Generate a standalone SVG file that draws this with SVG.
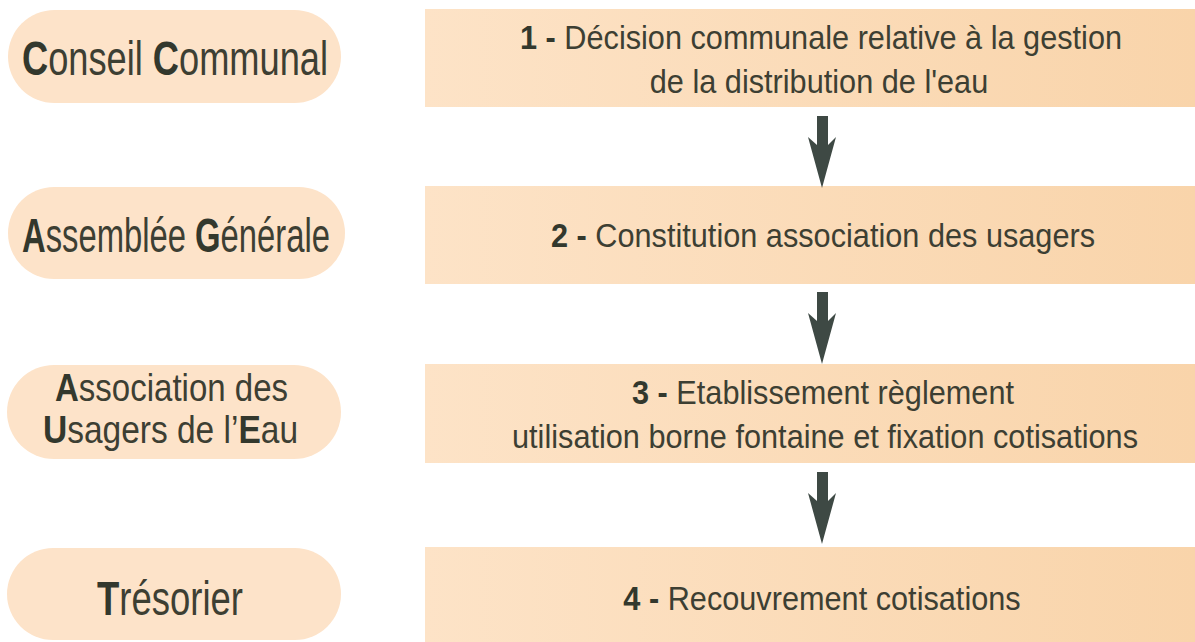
<svg xmlns="http://www.w3.org/2000/svg" width="1195" height="642" viewBox="0 0 1195 642">
<defs>
<linearGradient id="boxg" x1="0" y1="0" x2="1" y2="0">
<stop offset="0" stop-color="#fde3c7"/>
<stop offset="1" stop-color="#f9d4aa"/>
</linearGradient>
<path id="arr" d="M817,116 H828 V145 L836,137 L822,188 L808,137 L817,145 Z"/>
</defs>
<style>
.pill{fill:#fde3c9}
.box{fill:url(#boxg)}
.lt{font-family:"Liberation Sans",Arial,sans-serif;font-size:48px;fill:#3d3f33;text-anchor:middle}
.lt2{font-size:38px}
.rt{font-family:"Liberation Sans",Arial,sans-serif;font-size:33px;fill:#3d3f33;text-anchor:middle}
.b{font-weight:bold;fill:#33382d}
.arrow{fill:#3e4944}
</style>
<rect width="1195" height="642" fill="#ffffff"/>
<g id="actor-conseil">
<rect class="pill" x="8" y="10" width="333" height="93" rx="46.5"/>
<text class="lt" x="0" y="0" transform="translate(175,75) scale(0.755,1)"><tspan class="b">C</tspan>onseil <tspan class="b">C</tspan>ommunal</text>
</g>
<g id="actor-assemblee">
<rect class="pill" x="8" y="187" width="337" height="92" rx="46"/>
<text class="lt" x="0" y="0" transform="translate(176,252) scale(0.683,1)"><tspan class="b">A</tspan>ssemblée <tspan class="b">G</tspan>énérale</text>
</g>
<g id="actor-aue">
<rect class="pill" x="7" y="365" width="334" height="94" rx="47"/>
<text class="lt lt2" x="0" y="0" transform="translate(171.5,401) scale(0.869,1)"><tspan class="b">A</tspan>ssociation des</text>
<text class="lt lt2" x="0" y="0" transform="translate(170.5,443) scale(0.882,1)"><tspan class="b">U</tspan>sagers de l’<tspan class="b">E</tspan>au</text>
</g>
<g id="actor-tresorier">
<rect class="pill" x="7" y="548" width="334" height="92" rx="46"/>
<text class="lt" x="0" y="0" transform="translate(170,615) scale(0.76,1)"><tspan class="b">T</tspan>résorier</text>
</g>
<g id="step1">
<rect class="box" x="425" y="9" width="770" height="98"/>
<text class="rt" x="0" y="0" transform="translate(821,49) scale(0.93,1)"><tspan class="b">1 -</tspan> Décision communale relative à la gestion</text>
<text class="rt" x="0" y="0" transform="translate(819,93) scale(0.93,1)">de la distribution de l'eau</text>
</g>
<g id="step2">
<rect class="box" x="425" y="186" width="770" height="98"/>
<text class="rt" x="0" y="0" transform="translate(823,247) scale(0.93,1)"><tspan class="b">2 -</tspan> Constitution association des usagers</text>
</g>
<g id="step3">
<rect class="box" x="425" y="364" width="770" height="99"/>
<text class="rt" x="0" y="0" transform="translate(823,404) scale(0.93,1)"><tspan class="b">3 -</tspan> Etablissement règlement</text>
<text class="rt" x="0" y="0" transform="translate(825,448) scale(0.93,1)">utilisation borne fontaine et fixation cotisations</text>
</g>
<g id="step4">
<rect class="box" x="425" y="547" width="770" height="95"/>
<text class="rt" x="0" y="0" transform="translate(822,610) scale(0.93,1)"><tspan class="b">4 -</tspan> Recouvrement cotisations</text>
</g>
<g id="connectors">
<use href="#arr" class="arrow"/>
<use href="#arr" class="arrow" transform="translate(0,176)"/>
<use href="#arr" class="arrow" transform="translate(0,356)"/>
</g>
</svg>
